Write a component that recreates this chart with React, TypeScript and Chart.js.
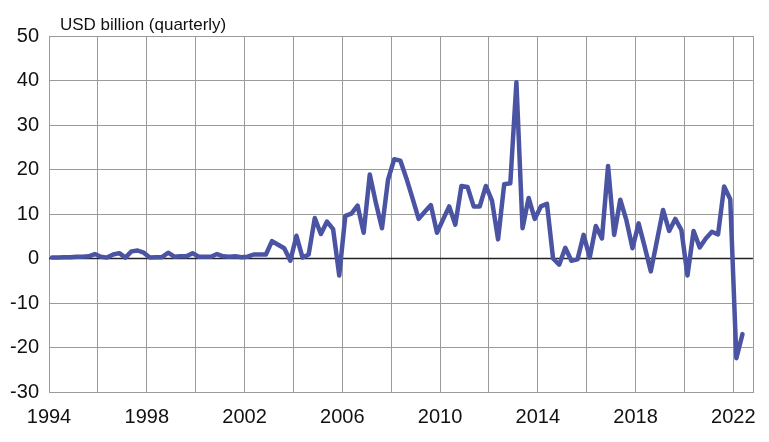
import { useEffect, useRef } from "react";
import { Chart, registerables } from "chart.js";

Chart.register(...registerables);

// Quarterly values, USD billion
const START_YEAR = 1994;
const values1994to1999 = [
  0.2, 0.2, 0.3, 0.3,
  0.4, 0.4, 0.5, 1.0,
  0.4, 0.2, 0.9, 1.2,
  0.2, 1.6, 1.8, 1.3,
  0.2, 0.3, 0.3, 1.3,
  0.4, 0.5, 0.5, 1.2,
];
const values2000to2009 = [
  0.4, 0.4, 0.4, 1.0,
  0.5, 0.4, 0.5, 0.3,
  0.4, 0.9, 0.9, 0.9,
  3.9, 3.1, 2.3, -0.5,
  5.1, 0.2, 0.9, 9.1,
  5.5, 8.3, 6.6, -3.8,
  9.6, 10.1, 11.9, 5.8,
  18.9, 12.5, 6.8, 17.8,
  22.3, 22.0, 18.0, 13.5,
  8.9, 10.5, 12.0, 5.8,
];
const values2010to2019 = [
  8.8, 11.7, 7.6, 16.3,
  16.1, 11.7, 11.7, 16.3,
  13.0, 4.3, 16.7, 16.9,
  39.6, 6.8, 13.6, 8.9,
  11.7, 12.3, 0.0, -1.4,
  2.4, -0.5, -0.2, 5.3,
  0.2, 7.3, 4.5, 20.8,
  5.3, 13.2, 8.6, 2.3,
  7.9, 2.6, -2.9, 4.0,
  10.9, 6.2, 8.9, 6.4,
];
const values2020to2022 = [
  -3.8, 6.2, 2.5, 4.5,
  6.0, 5.4, 16.2, 13.3,
  -22.4, -17.0,
];

const xLabelYears = [1994, 1998, 2002, 2006, 2010, 2014, 2018, 2022];
const yMin = -30;
const yMax = 50;
const yStep = 10;
const xMin = 1994;
const xMax = 2022.8;
const unitLabel = "USD billion (quarterly)";

const LINE_COLOR = "#4a54a3";
const GRID_COLOR = "#9a9a9a";
const FONT = "'Liberation Sans', Arial, sans-serif";

export default function App() {
  const canvasRef = useRef<HTMLCanvasElement | null>(null);

  useEffect(() => {
    const canvas = canvasRef.current;
    if (!canvas) return;
    const allValues = [
      ...values1994to1999,
      ...values2000to2009,
      ...values2010to2019,
      ...values2020to2022,
    ];
    const points = allValues.map((v, i) => ({
      x: START_YEAR + (i + 0.5) / 4,
      y: v,
    }));

    const framePlugin = {
      id: "frame",
      beforeDatasetsDraw(chart: any) {
        const { ctx, chartArea: a } = chart;
        ctx.save();
        ctx.strokeStyle = GRID_COLOR;
        ctx.lineWidth = 1;
        ctx.strokeRect(
          Math.round(a.left) + 0.5,
          Math.round(a.top) + 0.5,
          Math.round(a.right - a.left),
          Math.round(a.bottom - a.top)
        );
        // zero line on top of grid
        const y0 = chart.scales.y.getPixelForValue(0);
        ctx.strokeStyle = "#222";
        ctx.lineWidth = 1.5;
        ctx.beginPath();
        ctx.moveTo(a.left, y0);
        ctx.lineTo(a.right, y0);
        ctx.stroke();
        ctx.restore();
      },
      afterDraw(chart: any) {
        const { ctx, chartArea: a } = chart;
        ctx.save();
        ctx.fillStyle = "#111";
        ctx.font = `17px ${FONT}`;
        ctx.textAlign = "left";
        ctx.textBaseline = "alphabetic";
        ctx.fillText(unitLabel, a.left + 11, a.top - 6);
        ctx.restore();
      },
    };

    const chart = new Chart(canvas, {
      type: "line",
      data: {
        datasets: [
          {
            data: points,
            borderColor: LINE_COLOR,
            borderWidth: 4.5,
            pointRadius: 0,
            tension: 0,
            fill: false,
            borderCapStyle: "round",
            borderJoinStyle: "round",
          },
        ],
      },
      options: {
        animation: false,
        responsive: false,
        devicePixelRatio: 1,
        layout: { padding: { top: 36, right: 16, left: 0, bottom: 0 } },
        plugins: {
          legend: { display: false },
          tooltip: { enabled: false },
          title: { display: false },
        },
        scales: {
          x: {
            type: "linear",
            min: xMin,
            max: xMax,
            border: { display: false },
            grid: { color: GRID_COLOR, lineWidth: 1, drawTicks: false },
            ticks: {
              stepSize: 2,
              includeBounds: false,
              autoSkip: false,
              maxRotation: 0,
              minRotation: 0,
              padding: 13,
              color: "#111",
              font: { family: FONT, size: 20 },
              callback: (v: any) =>
                xLabelYears.includes(Number(v)) ? String(v) : "",
            },
            afterFit: (s: any) => {
              s.height = 50;
            },
          },
          y: {
            min: yMin,
            max: yMax,
            border: { display: false },
            grid: { color: GRID_COLOR, lineWidth: 1, drawTicks: false },
            ticks: {
              stepSize: yStep,
              padding: 10,
              color: "#111",
              font: { family: FONT, size: 20 },
            },
            afterFit: (s: any) => {
              s.width = 49;
            },
          },
        },
      },
      plugins: [framePlugin],
    });
    return () => chart.destroy();
  }, []);

  return (
    <div
      style={{
        position: "fixed",
        left: 0,
        top: 0,
        width: 769,
        height: 442,
        background: "#fff",
      }}
    >
      <canvas ref={canvasRef} width={769} height={442} />
    </div>
  );
}
